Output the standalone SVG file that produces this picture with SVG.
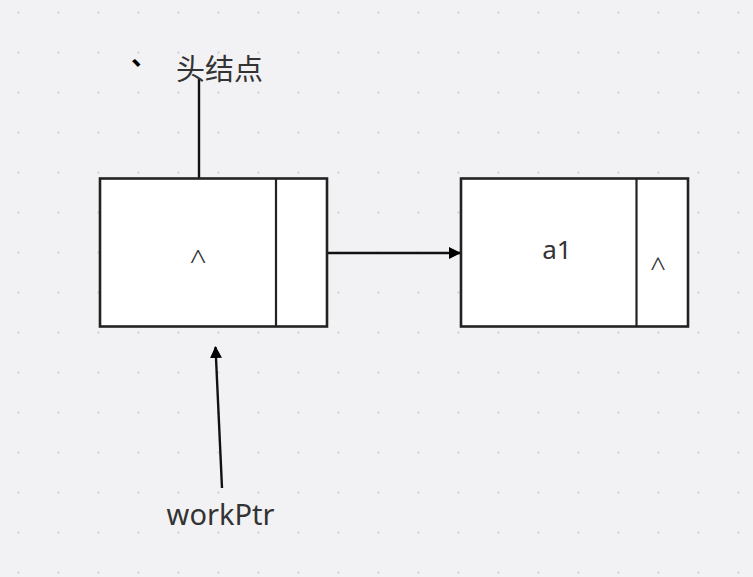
<svg xmlns="http://www.w3.org/2000/svg" width="753" height="577" viewBox="0 0 753 577">
<defs>
<pattern id="dots" x="0" y="0" width="40" height="40" patternUnits="userSpaceOnUse" patternTransform="translate(17.5 11.5)">
<rect x="0" y="0" width="2" height="2" fill="#cfcfd2"/>
</pattern>
<marker id="arr" markerWidth="12" markerHeight="12" refX="11" refY="6" orient="auto" markerUnits="userSpaceOnUse">
<path d="M0,0 L12,6 L0,12 Z" fill="#000"/>
</marker>
<style>
.box{fill:#fff;stroke:#222;stroke-width:2.6}
.div{stroke:#222;stroke-width:2.2}
.ln{stroke:#111;stroke-width:2.4;fill:none}
.t{font-family:"Noto Sans","Noto Sans CJK SC",sans-serif;fill:#333}
.c{font-family:"Noto Sans",sans-serif;fill:#333;font-weight:300}
</style>
</defs>
<rect width="753" height="577" fill="#f2f2f4"/>
<rect width="753" height="577" fill="url(#dots)"/>
<g id="connectors">
<line class="ln" x1="199" y1="78" x2="199" y2="178"/>
<line class="ln" x1="328" y1="253" x2="460" y2="253" marker-end="url(#arr)"/>
<line class="ln" x1="222" y1="488" x2="215.5" y2="347" marker-end="url(#arr)"/>
</g>
<g id="node1">
<rect class="box" x="100" y="178.5" width="227" height="148"/>
<line class="div" x1="276" y1="178.5" x2="276" y2="326.5"/>
<text class="c" x="198" y="271" font-size="30" text-anchor="middle">^</text>
</g>
<g id="node2">
<rect class="box" x="461" y="178.5" width="227" height="148"/>
<line class="div" x1="636.5" y1="178.5" x2="636.5" y2="326.5"/>
<text class="t" x="557" y="258.5" font-size="26" text-anchor="middle">a1</text>
<text class="c" x="658" y="278" font-size="28" text-anchor="middle">^</text>
</g>
<g id="label-head">
<text x="131" y="65" font-size="26" font-weight="bold" font-family="Noto Sans CJK SC, sans-serif" fill="#000">、</text>
<text class="t" x="176" y="80" font-size="29">头结点</text>
</g>
<g id="label-workPtr">
<text class="t" x="220.5" y="525" font-size="29" text-anchor="middle">workPtr</text>
</g>
</svg>
